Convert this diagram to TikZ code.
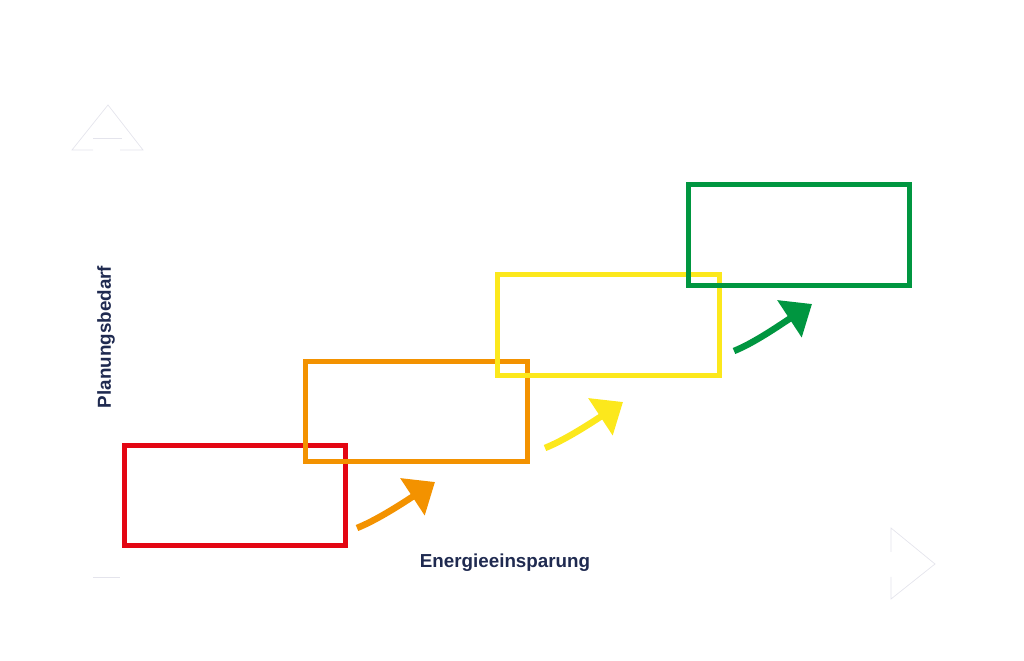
\documentclass[tikz,border=0pt]{standalone}
\usepackage{fontspec}
\setmainfont{Liberation Sans}
\usetikzlibrary{arrows.meta}
\definecolor{stufeRot}{HTML}{E30613}
\definecolor{stufeOrange}{HTML}{F39200}
\definecolor{stufeGelb}{HTML}{FCE81C}
\definecolor{stufeGruen}{HTML}{009640}
\definecolor{achsText}{HTML}{1F2A50}
\definecolor{achsGrau}{HTML}{E4E4EC}
\begin{document}
\begin{tikzpicture}[x=0.02cm,y=0.02cm,
    stufe/.style={draw,line width=0.1cm,rectangle,inner sep=0pt,minimum width=4.44cm,minimum height=2.02cm},
    pfeil/.style={line width=0.13cm,-{Triangle[length=0.54cm,width=0.86cm]}},
    achse/.style={font=\bfseries\fontsize{10.7}{12}\selectfont,text=achsText}]
    \useasboundingbox (0,0) rectangle (1024,-661);
    % faint axis heads
    \draw[achsGrau,line width=0.4pt] (93,-150) -- (72,-150) -- (108,-105) -- (143,-150) -- (120,-150);
    \draw[achsGrau,line width=0.4pt] (93,-138) -- (122,-138);
    \draw[achsGrau,line width=0.4pt] (93,-577) -- (120,-577);
    \draw[achsGrau,line width=0.4pt] (891,-552) -- (891,-528) -- (935,-564) -- (891,-599) -- (891,-577);
    % stages
    \node[stufe,draw=stufeRot] (rot) at (235,-495.5) {};
    \node[stufe,draw=stufeOrange] (orange) at (416.5,-411.5) {};
    \node[stufe,draw=stufeGelb] (gelb) at (608.5,-325) {};
    \node[stufe,draw=stufeGruen] (gruen) at (799,-235) {};
    % arrows
    \coordinate (a1) at (357,-528);
    \coordinate (b1) at (435,-482);
    \coordinate (a2) at (545,-448);
    \coordinate (b2) at (623,-402);
    \coordinate (a3) at (734,-351);
    \coordinate (b3) at (812,-304);
    \draw[pfeil,stufeOrange] (a1) .. controls +(20,8) and +(-32,-21) .. (b1);
    \draw[pfeil,stufeGelb] (a2) .. controls +(20,8) and +(-32,-21) .. (b2);
    \draw[pfeil,stufeGruen] (a3) .. controls +(20,8) and +(-32,-21) .. (b3);
    % axis labels
    \node[achse] (xlabel) at (505,-563) {Energieeinsparung};
    \node[achse,rotate=90] (ylabel) at (106,-337) {Planungsbedarf};
\end{tikzpicture}
\end{document}
